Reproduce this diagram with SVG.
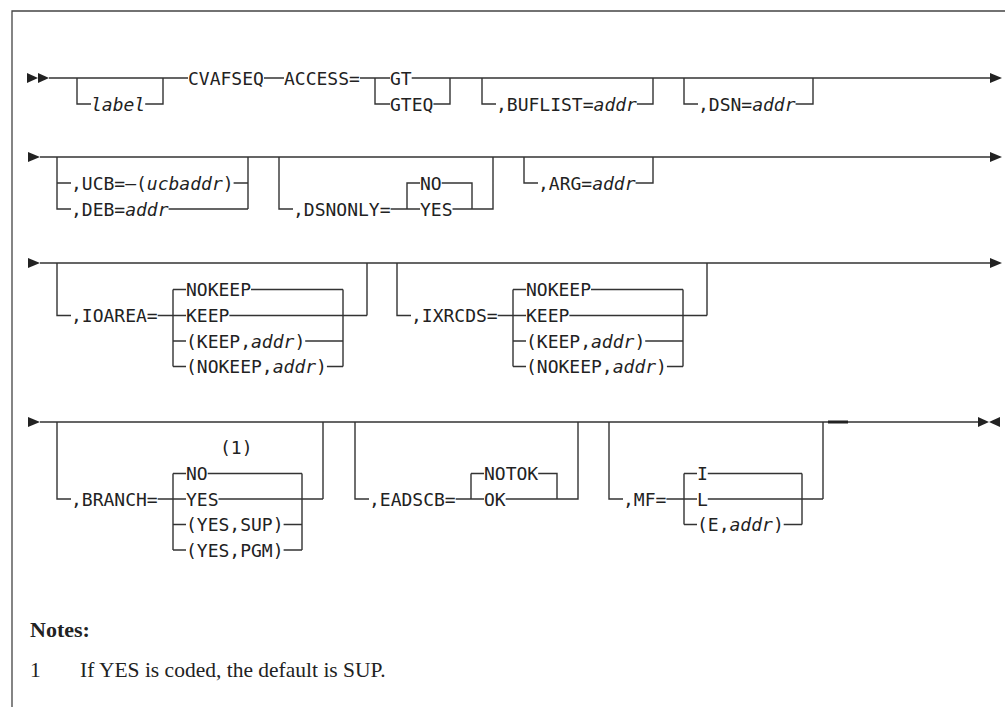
<svg xmlns="http://www.w3.org/2000/svg" width="1005" height="707" viewBox="0 0 1005 707">
<style>
.ln{fill:none;stroke:#333;stroke-width:1.4}
.th{fill:none;stroke:#222;stroke-width:3}
.ar{fill:#222}
.t{font-family:"DejaVu Sans Mono",monospace;font-size:18px;fill:#222}
.i{font-style:italic}
.fr{fill:none;stroke:#444;stroke-width:1.3}
.nh{font-family:"Liberation Serif",serif;font-size:22px;font-weight:bold;fill:#222}
.nt{font-family:"Liberation Serif",serif;font-size:21.5px;fill:#222}
</style>
<rect width="1005" height="707" fill="#fff"/>
<path class="fr" d="M1005,11 H12 V707"/>
<g id="connectors">
<path class="ln" d="M49,78 H188 M77,78 V104 H91 M145.2,104 H163 V78 M264,78 H284 M360,78 H390 M375,78 V104 H390 M411.7,78 H990 M433.4,104 H450 V78 M482,78 V104 H496 M636.9,104 H653 V78 M684,78 V104 H698 M795.6,104 H813 V78"/>
<polygon class="ar" points="27,73 38,78 27,83"/>
<polygon class="ar" points="38,73 49,78 38,83"/>
<polygon class="ar" points="990,73 1002,78 990,83"/>
<path class="ln" d="M40,157 H990 M57,157 V209 H71 M57,183 H71 M233.6,183 H248 M168.6,209 H248 M248,157 V209 M279,157 V209 H293 M390.6,209 H420 M407,209 V183 H420 M441.7,183 H472 V209 M452.5,209 H493 V157 M524,157 V183 H538 M635.6,183 H653 V157"/>
<polygon class="ar" points="28,152 40,157 28,162"/>
<polygon class="ar" points="990,152 1002,157 990,162"/>
<path class="ln" d="M40,263 H990 M57,263 V315.5 H71 M157.7,315.5 H186 M173,289.5 V366.5 M173,289.5 H186 M173,341 H186 M173,366.5 H186 M251,289.5 H343 M229.4,315.5 H367 M305.2,341 H343 M326.9,366.5 H343 M343,289.5 V366.5 M367,315.5 V263"/>
<path class="ln" d="M397,263 V315.5 H411 M497.7,315.5 H526 M513,289.5 V366.5 M513,289.5 H526 M513,341 H526 M513,366.5 H526 M591,289.5 H683 M569.4,315.5 H707 M645.2,341 H683 M666.9,366.5 H683 M683,289.5 V366.5 M707,315.5 V263"/>
<polygon class="ar" points="28,258 40,263 28,268"/>
<polygon class="ar" points="990,258 1002,263 990,268"/>
<path class="ln" d="M40,422 H978 M57,422 V499 H71 M157.7,499 H186 M173,473.5 V550 M173,473.5 H186 M173,524.5 H186 M173,550 H186 M207.7,473.5 H302 M218.5,499 H323 M283.6,524.5 H302 M283.6,550 H302 M302,473.5 V550 M323,499 V422"/>
<path class="ln" d="M355,422 V499 H369 M455.7,499 H484 M471,473.5 V499 M471,473.5 H484 M538.2,473.5 H557 V499 M505.7,499 H578 V422"/>
<path class="ln" d="M609,422 V499 H623 M666.4,499 H697 M684,473.5 V524.5 M684,473.5 H697 M684,524.5 H697 M707.8,473.5 H802 M707.8,499 H823 M783.7,524.5 H802 M802,473.5 V524.5 M823,499 V422"/>
<path class="th" d="M828,422 H848"/>
<polygon class="ar" points="28,417 40,422 28,427"/>
<polygon class="ar" points="978,417 989,422 978,427"/>
<polygon class="ar" points="1000,417 989,422 1000,427"/>
</g>
<g id="label"><text class="t i" x="91" y="110.5">label</text></g>
<g id="cvafseq"><text class="t" x="188" y="84.5">CVAFSEQ</text></g>
<g id="access"><text class="t" x="284" y="84.5">ACCESS=</text></g>
<g id="access-opts"><text class="t" x="390" y="84.5">GT</text><text class="t" x="390" y="110.5">GTEQ</text></g>
<g id="buflist"><text class="t" x="496" y="110.5">,BUFLIST=<tspan class="i">addr</tspan></text></g>
<g id="dsn"><text class="t" x="698" y="110.5">,DSN=<tspan class="i">addr</tspan></text></g>
<g id="ucb-deb"><text class="t" x="71" y="189.5">,UCB=–(<tspan class="i">ucbaddr</tspan>)</text><text class="t" x="71" y="215.5">,DEB=<tspan class="i">addr</tspan></text></g>
<g id="dsnonly"><text class="t" x="293" y="215.5">,DSNONLY=</text><text class="t" x="420" y="189.5">NO</text><text class="t" x="420" y="215.5">YES</text></g>
<g id="arg"><text class="t" x="538" y="189.5">,ARG=<tspan class="i">addr</tspan></text></g>
<g id="ioarea"><text class="t" x="71" y="322">,IOAREA=</text><text class="t" x="186" y="296">NOKEEP</text><text class="t" x="186" y="322">KEEP</text><text class="t" x="186" y="347.5">(KEEP,<tspan class="i">addr</tspan>)</text><text class="t" x="186" y="373">(NOKEEP,<tspan class="i">addr</tspan>)</text></g>
<g id="ixrcds"><text class="t" x="411" y="322">,IXRCDS=</text><text class="t" x="526" y="296">NOKEEP</text><text class="t" x="526" y="322">KEEP</text><text class="t" x="526" y="347.5">(KEEP,<tspan class="i">addr</tspan>)</text><text class="t" x="526" y="373">(NOKEEP,<tspan class="i">addr</tspan>)</text></g>
<g id="branch"><text class="t" x="71" y="505.5">,BRANCH=</text><text class="t" x="220" y="454">(1)</text><text class="t" x="186" y="480">NO</text><text class="t" x="186" y="505.5">YES</text><text class="t" x="186" y="531">(YES,SUP)</text><text class="t" x="186" y="556.5">(YES,PGM)</text></g>
<g id="eadscb"><text class="t" x="369" y="505.5">,EADSCB=</text><text class="t" x="484" y="480">NOTOK</text><text class="t" x="484" y="505.5">OK</text></g>
<g id="mf"><text class="t" x="623" y="505.5">,MF=</text><text class="t" x="697" y="480">I</text><text class="t" x="697" y="505.5">L</text><text class="t" x="697" y="531">(E,<tspan class="i">addr</tspan>)</text></g>
<g id="notes"><text class="nh" x="30" y="637">Notes:</text><text class="nt" x="30" y="677">1</text><text class="nt" x="80" y="677">If YES is coded, the default is SUP.</text></g>
</svg>
